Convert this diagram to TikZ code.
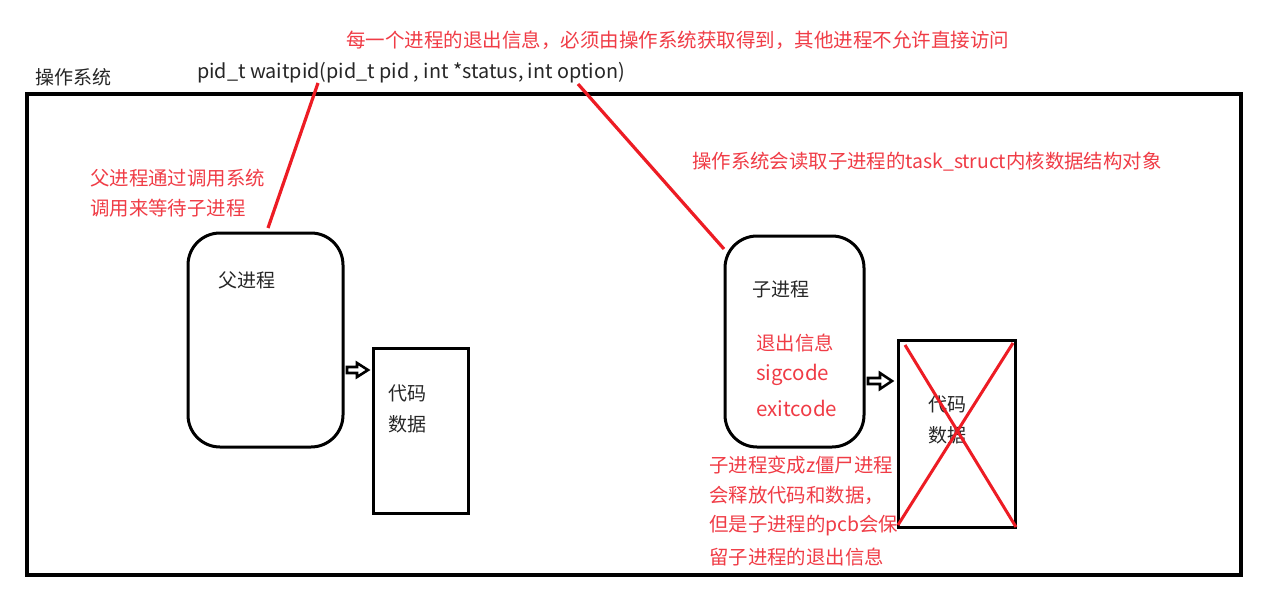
\documentclass[tikz,border=0pt]{standalone}
\usepackage{fontspec}
\setmainfont{Noto Sans CJK SC}
\usetikzlibrary{arrows.meta}
\definecolor{annred}{RGB}{237,28,36}
\definecolor{txtred}{RGB}{240,60,70}
\tikzset{
  frame/.style={draw=black, line width=3.5pt},
  blk/.style={draw=black, line width=3pt},
  lbl/.style={anchor=west, inner sep=0pt, font=\fontsize{19}{22}\selectfont, text=black!85},
  rlbl/.style={anchor=west, inner sep=0pt, font=\fontsize{19.4}{22}\selectfont, text=txtred},
  redline/.style={draw=annred, line width=3.2pt},
  cross/.style={draw=annred, line width=3pt},
  outarrow/.style={draw=black, fill=white, line width=2.6pt, line join=miter}
}
\begin{document}
\begin{tikzpicture}[x=1pt,y=-1pt]
\useasboundingbox (0,0) rectangle (1263,604);
\fill[white] (0,0) rectangle (1263,604);
% outer frame
\draw[frame] (27,94) rectangle (1241,575);
\node[lbl] (os) at (35,77) {操作系统};
\node[lbl, font=\fontsize{19.8}{22}\selectfont] (sig) at (197,73) {pid\_t waitpid(pid\_t pid , int *status, int option)};
\node[rlbl, font=\fontsize{19.5}{22}\selectfont] (title) at (346,40) {每一个进程的退出信息，必须由操作系统获取得到，其他进程不允许直接访问};
\node[rlbl] (osread) at (692,162) {操作系统会读取子进程的task\_struct内核数据结构对象};
\node[rlbl] (pcall1) at (90,178) {父进程通过调用系统};
\node[rlbl] (pcall2) at (90,208) {调用来等待子进程};
% parent
\draw[blk, rounded corners=32pt] (188,233) rectangle (343,447);
\coordinate (parentR) at (343,370);
\node[lbl] (ptext) at (218,280) {父进程};
% parent code box
\draw[blk] (373,348) rectangle (468,513);
\coordinate (codeL) at (373,370);
\node[lbl] (pc1) at (388,393) {代码};
\node[lbl] (pc2) at (388,424) {数据};
% child
\draw[blk, rounded corners=32pt] (725,236) rectangle (864,447);
\coordinate (childR) at (864,381);
\coordinate (childTop) at (724,249);
\coordinate (parentTop) at (268,228);
\node[lbl] (ctext) at (752,289) {子进程};
\node[rlbl] (c1) at (756,343) {退出信息};
\node[rlbl, font=\fontsize{20.5}{22}\selectfont] (c2) at (756,375) {sigcode};
\node[rlbl, font=\fontsize{20.5}{22}\selectfont] (c3) at (756,408) {exitcode};
% child code box
\draw[blk] (898,340) rectangle (1015,527);
\coordinate (ccodeL) at (898,381);
\node[lbl] (cc1) at (928,404) {代码};
\node[lbl] (cc2) at (928,435) {数据};
\draw[cross] (905,345) -- (1016,527);
\draw[cross] (1013,343) -- (898,525);
% arrows (outlined block arrows from box to box)
\draw[outarrow, shift={(parentR)}] (4,-3) -- (14,-3) -- (14,-7) -- (25,0) -- (14,7) -- (14,3) -- (4,3) -- cycle;
\draw[outarrow, shift={(childR)}] (4,-3) -- (16,-3) -- (16,-8) -- (28,0) -- (16,8) -- (16,3) -- (4,3) -- cycle;
% zombie text
\node[rlbl] (z1) at (709,465) {子进程变成z僵尸进程};
\node[rlbl] (z2) at (709,495) {会释放代码和数据，};
\node[rlbl] (z3) at (709,526) {但是子进程的pcb会保};
\node[rlbl] (z4) at (709,557) {留子进程的退出信息};
% red connectors
\coordinate (sigA) at (318,83);
\coordinate (sigB) at (578,84);
\draw[redline] (sigA) -- (parentTop);
\draw[redline] (sigB) -- (childTop);
\end{tikzpicture}
\end{document}
